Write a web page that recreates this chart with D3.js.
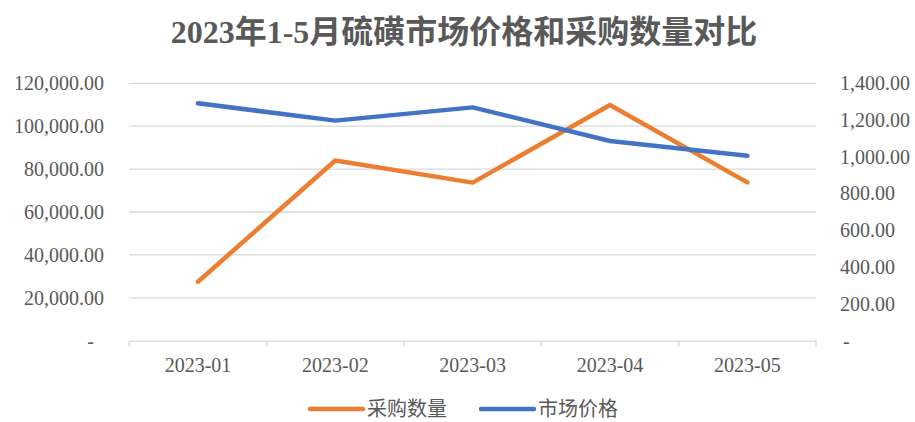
<!DOCTYPE html>
<html>
<head>
<meta charset="utf-8">
<script src="https://cdn.jsdelivr.net/npm/d3@7"></script>
<style>
  html, body { margin: 0; padding: 0; background: #fff; }
  svg { display: block; }
</style>
</head>
<body>
<div id="chart"></div>
<script>
// data
const months = ['2023-01', '2023-02', '2023-03', '2023-04', '2023-05'];
const purchaseQty = [27500, 84000, 73700, 109900, 73800];   // 采购数量, left axis
const marketPrice = [1291, 1197, 1269, 1086, 1006];         // 市场价格, right axis
const leftTicks = [0, 20000, 40000, 60000, 80000, 100000, 120000];
const rightTicks = [0, 200, 400, 600, 800, 1000, 1200, 1400];

const width = 915, height = 422;
const plot = { left: 129.3, right: 816, top: 83.3, bottom: 340.7 };
const textColor = '#595959';
const gridColor = '#d9d9d9';
const serif = '"Liberation Serif", "Times New Roman", "Noto Sans CJK SC", serif';
const cjk = '"Liberation Serif", "Noto Sans CJK SC", sans-serif';

const svg = d3.select('#chart').append('svg')
    .attr('width', width)
    .attr('height', height);

const x = d3.scaleBand().domain(months).range([plot.left, plot.right]);
const yL = d3.scaleLinear().domain([0, 120000]).range([plot.bottom, plot.top]);
const yR = d3.scaleLinear().domain([0, 1400]).range([plot.bottom, plot.top]);

const fmt = d3.format(',.2f');
const tickFmt = v => v === 0 ? '-' : fmt(v);

// title
svg.append('text')
    .attr('x', 464)
    .attr('y', 43)
    .attr('text-anchor', 'middle')
    .style('font-family', serif)
    .style('font-weight', 'bold')
    .style('font-size', '32px')
    .attr('fill', textColor)
    .text('2023年1-5月硫磺市场价格和采购数量对比');

// gridlines
svg.append('g')
    .selectAll('line')
    .data(leftTicks.filter(d => d > 0))
    .join('line')
    .attr('x1', plot.left)
    .attr('x2', plot.right)
    .attr('y1', d => yL(d))
    .attr('y2', d => yL(d))
    .attr('stroke', gridColor)
    .attr('stroke-width', 1.3);

// left axis labels
const gLeft = svg.append('g')
    .style('font-family', serif)
    .style('font-size', '20px')
    .attr('fill', textColor);
gLeft.selectAll('text')
    .data(leftTicks)
    .join('text')
    .attr('x', d => d === 0 ? 94 : 104)
    .attr('y', d => yL(d))
    .attr('dy', '0.34em')
    .attr('text-anchor', 'end')
    .text(tickFmt);

// right axis labels
const gRight = svg.append('g')
    .style('font-family', serif)
    .style('font-size', '20px')
    .attr('fill', textColor);
gRight.selectAll('text')
    .data(rightTicks)
    .join('text')
    .attr('x', d => d === 0 ? 843 : 840)
    .attr('y', d => yR(d))
    .attr('dy', '0.34em')
    .attr('text-anchor', 'start')
    .text(tickFmt);

// x axis
const xAxis = svg.append('g')
    .attr('transform', `translate(0,${plot.bottom})`)
    .call(d3.axisBottom(x).tickSize(0).tickPadding(17))
    .style('font-family', serif)
    .style('font-size', '20px');
xAxis.select('.domain').attr('stroke', gridColor).attr('stroke-width', 1.3);
xAxis.selectAll('text').attr('fill', textColor);

const bounds = months.map(m => x(m)).concat([plot.right]);
xAxis.append('g')
    .selectAll('line')
    .data(bounds)
    .join('line')
    .attr('x1', d => d)
    .attr('x2', d => d)
    .attr('y1', 0)
    .attr('y2', 6)
    .attr('stroke', gridColor)
    .attr('stroke-width', 1.3);

// lines
const cx = m => x(m) + x.bandwidth() / 2;

const lineQty = d3.line()
    .x((d, i) => cx(months[i]))
    .y(d => yL(d));
const linePrice = d3.line()
    .x((d, i) => cx(months[i]))
    .y(d => yR(d));

svg.append('path')
    .datum(purchaseQty)
    .attr('d', lineQty)
    .attr('fill', 'none')
    .attr('stroke', '#ED7D31')
    .attr('stroke-width', 4.5)
    .attr('stroke-linecap', 'round')
    .attr('stroke-linejoin', 'round');

svg.append('path')
    .datum(marketPrice)
    .attr('d', linePrice)
    .attr('fill', 'none')
    .attr('stroke', '#4472C4')
    .attr('stroke-width', 4.5)
    .attr('stroke-linecap', 'round')
    .attr('stroke-linejoin', 'round');

// legend
const legendItems = [
    { name: '采购数量', color: '#ED7D31', x: 310 },
    { name: '市场价格', color: '#4472C4', x: 481 }
];
const legend = svg.append('g');
const li = legend.selectAll('g')
    .data(legendItems)
    .join('g')
    .attr('transform', d => `translate(${d.x},409)`);
li.append('line')
    .attr('x1', 0)
    .attr('x2', 53)
    .attr('stroke', d => d.color)
    .attr('stroke-width', 4.5)
    .attr('stroke-linecap', 'round');
li.append('text')
    .attr('x', 57)
    .attr('dy', '0.34em')
    .style('font-family', cjk)
    .style('font-size', '20px')
    .attr('fill', textColor)
    .text(d => d.name);
</script>
</body>
</html>
